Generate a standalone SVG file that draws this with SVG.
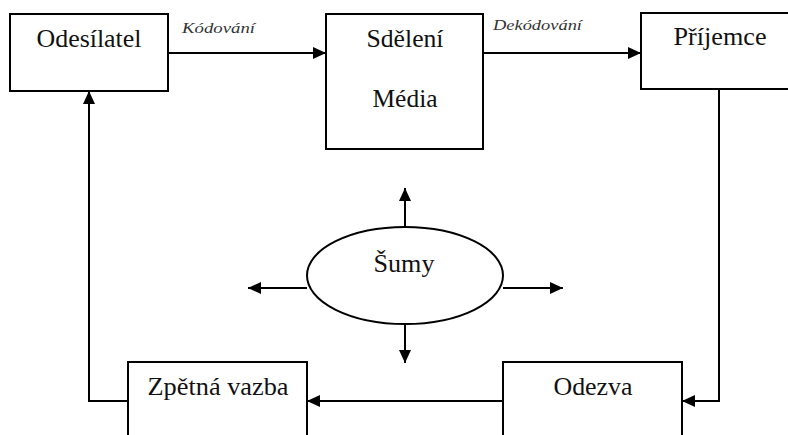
<svg xmlns="http://www.w3.org/2000/svg" width="788" height="435" viewBox="0 0 788 435">
<defs>
<marker id="ah" viewBox="0 0 13 12" refX="13" refY="6" markerWidth="13" markerHeight="12" markerUnits="userSpaceOnUse" orient="auto">
<path d="M0,0 L13,6 L0,12 Z" fill="#000"/>
</marker>
</defs>
<style>
.box{fill:#fff;stroke:#000;stroke-width:2}
.t{font-family:'Liberation Serif','DejaVu Serif',serif;font-size:25px;fill:#111;text-anchor:middle}
.lbl{font-family:'Liberation Serif',serif;font-style:italic;font-size:15px;fill:#333}
.c{fill:none;stroke:#000;stroke-width:2;marker-end:url(#ah)}
</style>
<rect width="788" height="435" fill="#fff"/>
<g id="connectors">
<line class="c" x1="168" y1="53" x2="326" y2="53"/>
<line class="c" x1="483" y1="53" x2="641" y2="53"/>
<polyline class="c" points="719,89 719,401 682,401"/>
<line class="c" x1="503" y1="401" x2="307" y2="401"/>
<polyline class="c" points="128,401 89,401 89,91"/>
<line class="c" x1="405" y1="227" x2="405" y2="188"/>
<line class="c" x1="307" y1="288" x2="248" y2="288"/>
<line class="c" x1="503" y1="288" x2="563" y2="288"/>
<line class="c" x1="405" y1="324" x2="405" y2="363"/>
<text class="lbl" x="182" y="33" textLength="73" lengthAdjust="spacingAndGlyphs">Kódování</text>
<text class="lbl" x="493" y="30" textLength="89" lengthAdjust="spacingAndGlyphs">Dekódování</text>
</g>
<g id="odesilatel">
<rect class="box" x="10" y="14" width="158" height="77"/>
<text class="t" x="89" y="47" textLength="105" lengthAdjust="spacingAndGlyphs">Odesílatel</text>
</g>
<g id="sdeleni">
<rect class="box" x="326" y="14" width="157" height="135"/>
<text class="t" x="405" y="47" textLength="77" lengthAdjust="spacingAndGlyphs">Sdělení</text>
<text class="t" x="405" y="107" textLength="65" lengthAdjust="spacingAndGlyphs">Média</text>
</g>
<g id="prijemce">
<rect class="box" x="641" y="13" width="160" height="76"/>
<text class="t" x="720" y="45" textLength="93" lengthAdjust="spacingAndGlyphs">Příjemce</text>
</g>
<g id="sumy">
<ellipse class="box" cx="405" cy="275.5" rx="98" ry="48.5"/>
<text class="t" x="404" y="272" textLength="61" lengthAdjust="spacingAndGlyphs">Šumy</text>
</g>
<g id="odezva">
<rect class="box" x="503" y="362" width="179" height="80"/>
<text class="t" x="593" y="395" textLength="79" lengthAdjust="spacingAndGlyphs">Odezva</text>
</g>
<g id="zpetna-vazba">
<rect class="box" x="128" y="362" width="179" height="80"/>
<text class="t" x="218" y="395" textLength="141" lengthAdjust="spacingAndGlyphs">Zpětná vazba</text>
</g>
</svg>
